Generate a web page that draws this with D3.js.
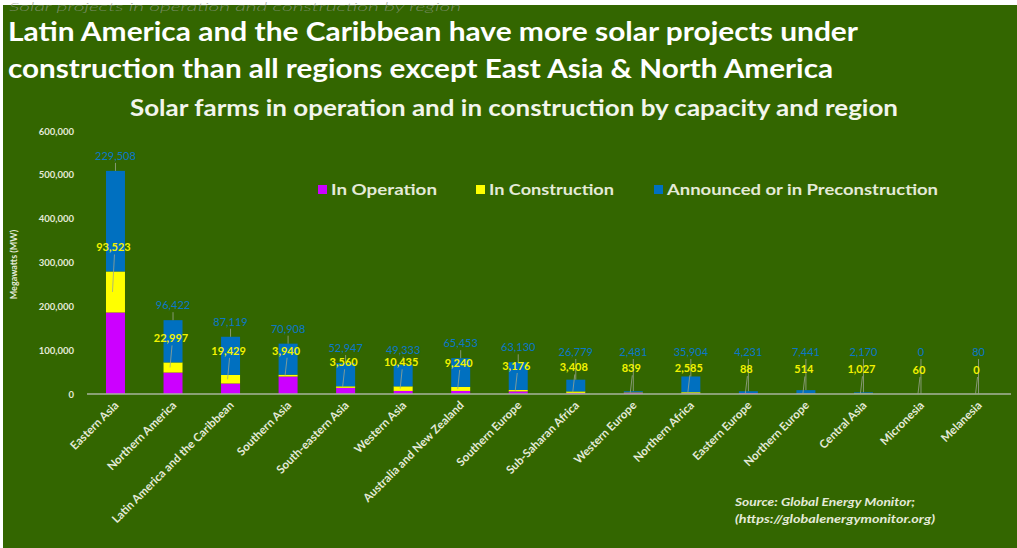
<!DOCTYPE html>
<html>
<head>
<meta charset="utf-8">
<script src="https://cdn.jsdelivr.net/npm/d3@7"></script>
<style>
  html, body { margin: 0; padding: 0; background: #ffffff; }
  svg { display: block; }
  text { font-family: Lato, "Open Sans", "DejaVu Sans", sans-serif; }
</style>
</head>
<body>
<svg id="chart" width="1017" height="548"></svg>
<script>
// Solar capacity by region (MW)
const categories = [
  "Eastern Asia", "Northern America", "Latin America and the Caribbean", "Southern Asia",
  "South-eastern Asia", "Western Asia", "Australia and New Zealand", "Southern Europe",
  "Sub-Saharan Africa", "Western Europe", "Northern Africa", "Eastern Europe",
  "Northern Europe", "Central Asia", "Micronesia", "Melanesia"
];
const inOperation    = [186000, 49000, 24000, 40000, 14000, 7000, 7000, 6000, 2500, 3000, 1500, 2000, 800, 600, 0, 0];
const inConstruction = [93523, 22997, 19429, 3940, 3560, 10435, 9240, 3176, 3408, 839, 2585, 88, 514, 1027, 60, 0];
const announced      = [229508, 96422, 87119, 70908, 52947, 49333, 65453, 63130, 26779, 2481, 35904, 4231, 7441, 2170, 0, 80];
const seriesNames = ["In Operation", "In Construction", "Announced or in Preconstruction"];
const yTicks = [0, 100000, 200000, 300000, 400000, 500000, 600000];

const seriesKeys = ["op", "con", "ann"];
const colors = { op: "#cc00ff", con: "#ffff00", ann: "#0070c0" };
const rows = categories.map((c, i) => ({
  cat: c, op: inOperation[i], con: inConstruction[i], ann: announced[i]
}));

const svg = d3.select("#chart");
const W = 1017, H = 548;
const textColor = "#e4ead8";

// green panel
svg.append("rect").attr("x", 3).attr("y", 5).attr("width", W - 3).attr("height", H - 5)
  .attr("fill", "#336600");

const fmt = d3.format(",");

const x = d3.scaleBand().domain(categories).range([87, 1007])
  .paddingInner(0.67).paddingOuter(0.33);
const y = d3.scaleLinear().domain([0, 600000]).range([394, 131]);

function fit(sel, w) {
  sel.each(function () {
    const len = this.getComputedTextLength();
    if (len > 0) d3.select(this).attr("textLength", w).attr("lengthAdjust", "spacingAndGlyphs");
  });
}

// faint caption along the top edge
svg.append("text").attr("x", 9).attr("y", 11)
  .attr("font-family", "'Open Sans', Lato, sans-serif")
  .attr("font-style", "italic").attr("font-weight", 300)
  .attr("font-size", 12).attr("fill", "#8f9a88").attr("fill-opacity", 0.75)
  .text("Solar projects in operation and construction by region")
  .call(fit, 452);

// headline
svg.append("text").attr("x", 8).attr("y", 41)
  .attr("font-size", 26).attr("font-weight", 700).attr("fill", "#ffffff")
  .text("Latin America and the Caribbean have more solar projects under")
  .call(fit, 850);
svg.append("text").attr("x", 8).attr("y", 78)
  .attr("font-size", 26).attr("font-weight", 700).attr("fill", "#ffffff")
  .text("construction than all regions except East Asia & North America")
  .call(fit, 825);

// chart title
svg.append("text").attr("x", 130).attr("y", 116)
  .attr("font-size", 22).attr("font-weight", 700).attr("fill", "#f2f5ec")
  .text("Solar farms in operation and in construction by capacity and region")
  .call(fit, 768);

// y axis
const yAxis = d3.axisLeft(y).tickValues(yTicks).tickFormat(fmt).tickSize(0).tickPadding(0);
const yg = svg.append("g").attr("transform", "translate(74,0)").call(yAxis);
yg.select(".domain").remove();
yg.selectAll("text").attr("font-size", 9.5).attr("font-weight", 700)
  .attr("fill", textColor).attr("font-family", "Lato, sans-serif");

svg.append("text")
  .attr("transform", `translate(17,${(y(0) + y(600000)) / 2 + 2}) rotate(-90)`)
  .attr("text-anchor", "middle").attr("font-size", 9).attr("font-weight", 700)
  .attr("fill", textColor).text("Megawatts (MW)");

// stacked bars
const stack = d3.stack().keys(seriesKeys)(rows);
svg.append("g").selectAll("g").data(stack).join("g")
  .attr("fill", d => colors[d.key])
  .selectAll("rect").data(d => d).join("rect")
  .attr("x", d => x(d.data.cat))
  .attr("width", x.bandwidth())
  .attr("y", d => y(d[1]))
  .attr("height", d => Math.max(0, y(d[0]) - y(d[1])));

// x axis baseline
svg.append("line").attr("x1", 87).attr("x2", 1011)
  .attr("y1", y(0)).attr("y2", y(0))
  .attr("stroke", "#a9b59c").attr("stroke-width", 1.5);

// category labels
svg.append("g").selectAll("text").data(categories).join("text")
  .attr("transform", c => `translate(${x(c) + x.bandwidth() / 2 + 4},${y(0) + 12}) rotate(-45)`)
  .attr("text-anchor", "end").attr("font-size", 11.5).attr("font-weight", 700)
  .attr("fill", textColor).text(c => c);

// data callouts with leader lines
const lbl = svg.append("g");
rows.forEach(r => {
  const cx = x(r.cat) + x.bandwidth() / 2;
  const topAll = y(r.op + r.con + r.ann);
  const topCon = y(r.op + r.con);
  const midCon = (y(r.op) + topCon) / 2;

  const by = Math.min(topAll - 11, 356);
  const yy = Math.min(topCon - 20, 377);

  if (topAll - (by + 3) > 4) {
    lbl.append("line").attr("x1", cx).attr("x2", cx)
      .attr("y1", by + 3).attr("y2", topAll)
      .attr("stroke", "#9aa690").attr("stroke-width", 0.8);
  }
  lbl.append("line").attr("x1", cx - 1).attr("x2", cx - 3)
    .attr("y1", yy + 3).attr("y2", Math.max(yy + 4, midCon))
    .attr("stroke", "#9aa690").attr("stroke-width", 0.8);

  lbl.append("text").attr("x", cx).attr("y", by)
    .attr("text-anchor", "middle").attr("font-size", 11)
    .attr("fill", "#0a78c8").text(fmt(r.ann));
  lbl.append("text").attr("x", cx - 2).attr("y", yy)
    .attr("text-anchor", "middle").attr("font-size", 11).attr("font-weight", 700)
    .attr("fill", "#f2f200").text(fmt(r.con));
});

// legend
const legendX = [318, 476, 654];
const legendW = [106, 125, 271];
const lg = svg.append("g");
seriesKeys.forEach((k, i) => {
  lg.append("rect").attr("x", legendX[i]).attr("y", 185).attr("width", 9).attr("height", 9)
    .attr("fill", colors[k]);
  lg.append("text").attr("x", legendX[i] + 13).attr("y", 195)
    .attr("font-size", 15).attr("font-weight", 700).attr("fill", textColor)
    .text(seriesNames[i]).call(fit, legendW[i]);
});

// source note
svg.append("text").attr("x", 735).attr("y", 506)
  .attr("font-size", 10.5).attr("font-weight", 700).attr("font-style", "italic")
  .attr("fill", textColor).text("Source: Global Energy Monitor;").call(fit, 180);
svg.append("text").attr("x", 735).attr("y", 523)
  .attr("font-size", 10.5).attr("font-weight", 700).attr("font-style", "italic")
  .attr("fill", textColor).text("(https://globalenergymonitor.org)").call(fit, 200);
</script>
</body>
</html>
